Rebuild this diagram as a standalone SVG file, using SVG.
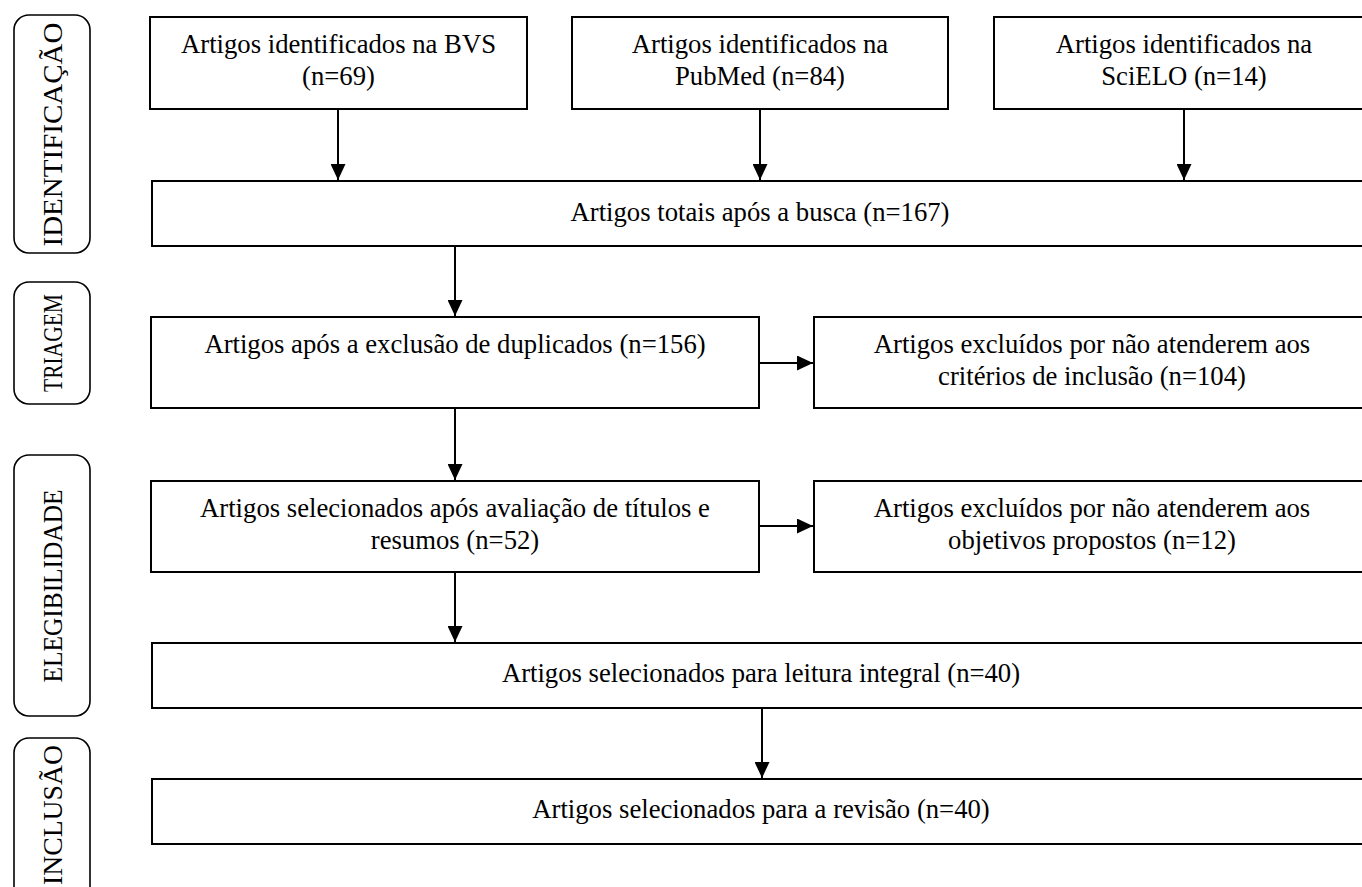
<svg xmlns="http://www.w3.org/2000/svg" width="1362" height="887" viewBox="0 0 1362 887">
<style>
.box{fill:#fff;stroke:#000;stroke-width:2}
.phase{fill:#fff;stroke:#000;stroke-width:1.6}
.t{font-family:"Liberation Serif","Times New Roman",serif;font-size:26.7px;fill:#000;text-anchor:middle}
.c{stroke:#000;stroke-width:2;fill:none}
</style>
<defs>
<marker id="ah" viewBox="0 0 16 15" refX="16" refY="7.5" markerWidth="16" markerHeight="15" markerUnits="userSpaceOnUse" orient="auto">
<path d="M0,0 L16,7.5 L0,15 Z" fill="#000"/>
</marker>
</defs>
<rect width="1362" height="887" fill="#fff"/>

<g id="phase-identificacao">
<rect class="phase" x="14" y="15" width="76" height="238" rx="15"/>
<text class="t" transform="translate(62,134.5) rotate(-90)" textLength="224" lengthAdjust="spacingAndGlyphs">IDENTIFICAÇÃO</text>
</g>
<g id="phase-triagem">
<rect class="phase" x="14" y="282" width="76" height="122" rx="15"/>
<text class="t" transform="translate(62,343) rotate(-90)" textLength="98" lengthAdjust="spacingAndGlyphs">TRIAGEM</text>
</g>
<g id="phase-elegibilidade">
<rect class="phase" x="14" y="455" width="76" height="261" rx="15"/>
<text class="t" transform="translate(62,586) rotate(-90)" textLength="193" lengthAdjust="spacingAndGlyphs">ELEGIBILIDADE</text>
</g>
<g id="phase-inclusao">
<rect class="phase" x="14" y="738" width="76" height="170" rx="15"/>
<text class="t" transform="translate(62,815) rotate(-90)" textLength="140" lengthAdjust="spacingAndGlyphs">INCLUSÃO</text>
</g>

<g id="bvs">
<rect class="box" x="150" y="17" width="377" height="92"/>
<text class="t" x="338.5" y="53">Artigos identificados na BVS</text>
<text class="t" x="338.5" y="85">(n=69)</text>
</g>
<g id="pubmed">
<rect class="box" x="572" y="17" width="376" height="92"/>
<text class="t" x="760" y="53">Artigos identificados na</text>
<text class="t" x="760" y="85">PubMed (n=84)</text>
</g>
<g id="scielo">
<rect class="box" x="994" y="17" width="380" height="92"/>
<text class="t" x="1184" y="53">Artigos identificados na</text>
<text class="t" x="1184" y="85">SciELO (n=14)</text>
</g>
<g id="total">
<rect class="box" x="152" y="181" width="1220" height="65"/>
<text class="t" x="760" y="221">Artigos totais após a busca (n=167)</text>
</g>
<g id="duplicados">
<rect class="box" x="151" y="317" width="608" height="91"/>
<text class="t" x="455" y="353">Artigos após a exclusão de duplicados (n=156)</text>
</g>
<g id="excluidos-inclusao">
<rect class="box" x="814" y="317" width="556" height="91"/>
<text class="t" x="1092" y="353">Artigos excluídos por não atenderem aos</text>
<text class="t" x="1092" y="385">critérios de inclusão (n=104)</text>
</g>
<g id="titulos">
<rect class="box" x="151" y="481" width="608" height="91"/>
<text class="t" x="455" y="517">Artigos selecionados após avaliação de títulos e</text>
<text class="t" x="455" y="549">resumos (n=52)</text>
</g>
<g id="excluidos-objetivos">
<rect class="box" x="814" y="481" width="556" height="91"/>
<text class="t" x="1092" y="517">Artigos excluídos por não atenderem aos</text>
<text class="t" x="1092" y="549">objetivos propostos (n=12)</text>
</g>
<g id="leitura">
<rect class="box" x="152" y="643" width="1220" height="65"/>
<text class="t" x="761" y="682">Artigos selecionados para leitura integral (n=40)</text>
</g>
<g id="revisao">
<rect class="box" x="152" y="779" width="1220" height="65"/>
<text class="t" x="761" y="818">Artigos selecionados para a revisão (n=40)</text>
</g>

<g id="connectors">
<line class="c" x1="338" y1="109" x2="338" y2="180" marker-end="url(#ah)"/>
<line class="c" x1="760" y1="109" x2="760" y2="180" marker-end="url(#ah)"/>
<line class="c" x1="1184" y1="109" x2="1184" y2="180" marker-end="url(#ah)"/>
<line class="c" x1="455" y1="246" x2="455" y2="316" marker-end="url(#ah)"/>
<line class="c" x1="455" y1="408" x2="455" y2="480" marker-end="url(#ah)"/>
<line class="c" x1="455" y1="572" x2="455" y2="642" marker-end="url(#ah)"/>
<line class="c" x1="762" y1="708" x2="762" y2="778" marker-end="url(#ah)"/>
<line class="c" x1="759" y1="363" x2="813" y2="363" marker-end="url(#ah)"/>
<line class="c" x1="759" y1="526" x2="813" y2="526" marker-end="url(#ah)"/>
</g>
</svg>
